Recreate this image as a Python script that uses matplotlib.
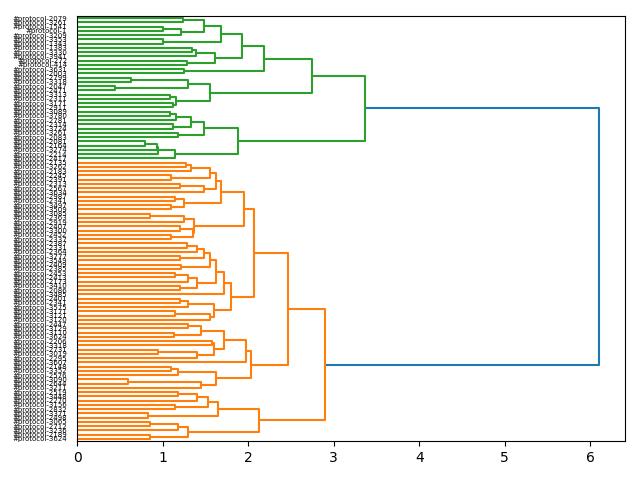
import matplotlib
matplotlib.use("Agg")
import matplotlib.pyplot as plt
from matplotlib.collections import LineCollection

# leaf labels, top to bottom
label_ids = [
    2079, 3261, 1541, 1, 3209, 3353, 1343, 1383, 3330, 3941, 272, 414,
    3631, 2003, 2799, 3318, 2047, 2471, 3313, 2311, 3171, 2911, 3089, 3780,
    2781, 2314, 3724, 3261, 2083, 2081, 2164, 3274, 2214, 2417, 2135, 3262,
    2183, 2245, 2391, 2313, 2567, 3634, 2987, 2341, 3497, 3509, 3085, 2363,
    2919, 2407, 3300, 2452, 2337, 2387, 2331, 2364, 3777, 3549, 2409, 2385,
    2453, 2413, 2173, 3410, 2086, 3485, 2401, 2341, 3575, 3171, 3121, 3120,
    2447, 3129, 3110, 3624, 2206, 3318, 2731, 3019, 2295, 3607, 2148, 3352,
    2576, 3090, 2644, 3211, 2519, 3448, 2270, 3156, 2832, 3371, 2498, 3065,
    2712, 3236, 2189, 3624,
]
labels = ["#protocol-%d" % n for n in label_ids]

# tree: [height, left, right], leaves are indices into labels (top to bottom)
green = [3.37,
    [2.75,
        [2.18,
            [1.93,
                [1.68, [1.49, [1.24, 0, 1], [1.22, [1.0, 2, 3], 4]], [1.0, 5, 6]],
                [1.61, [1.39, [1.34, 7, 8], 9], [1.28, 10, 11]]],
            [1.25, 12, 13]],
        [1.55, [1.3, [0.63, 14, 15], [0.44, 16, 17]],
               [1.16, [1.09, 18, 19], [1.12, 20, 21]]]],
    [1.88,
        [1.48, [1.33, [1.16, [1.09, 22, 23], 24], [1.12, 25, 26]], [1.18, 27, 28]],
        [1.15, [0.95, [0.93, [0.8, 29, 30], 31], 32], 33]]]

orange = [2.9,
    [2.47,
        [2.07,
            [1.95,
                [1.68, [1.63, [1.55, [1.33, [1.27, 34, 35], 36], [1.1, 37, 38]],
                              [1.48, [1.2, 39, 40], 41]],
                       [1.25, [1.15, 42, 43], [1.1, 44, 45]]],
                [1.37, [1.25, [0.85, 46, 47], 48], [1.35, [1.2, 49, 50], [1.1, 51, 52]]]],
            [1.8,
                [1.72, [1.62, [1.55, [1.48, [1.4, [1.28, 53, 54], 55], [1.2, 56, 57]],
                                     [1.22, 58, 59]],
                              [1.4, [1.3, [1.15, 60, 61], 62], [1.2, 63, 64]]],
                       65],
                [1.6, [1.3, [1.2, 66, 67], 68], [1.55, [1.15, 69, 70], 71]]]],
        [2.03,
            [1.97, [1.72, [1.45, [1.3, 72, 73], [1.13, 74, 75]],
                          [1.6, [1.58, 76, 77], [1.4, [0.95, 78, 79], 80]]],
                   81],
            [1.62, [1.18, [1.1, 82, 83], 84], [1.45, [0.6, 85, 86], 87]]]],
    [2.13,
        [1.65, [1.53, [1.4, [1.18, 88, 89], 90], [1.15, 91, 92]], [0.83, 93, 94]],
        [1.3, [1.18, [0.85, 95, 96], 97], [0.85, 98, 99]]]]

root_height = 6.1

segs = {"C0": [], "C1": [], "C2": []}


def walk(node, color):
    # returns (position, height) of node, adds its link lines
    if not isinstance(node, list):
        return 5 + 10 * node, 0.0
    h, left, right = node
    y1, h1 = walk(left, color)
    y2, h2 = walk(right, color)
    segs[color].append([(h1, y1), (h, y1), (h, y2), (h2, y2)])
    return (y1 + y2) / 2, h


yg, hg = walk(green, "C2")
yo, ho = walk(orange, "C1")
segs["C0"].append([(hg, yg), (root_height, yg), (root_height, yo), (ho, yo)])

fig, ax = plt.subplots(figsize=(6.4, 4.8), dpi=100)
for c, s in segs.items():
    ax.add_collection(LineCollection(s, colors=c, linewidths=1.5))

n = len(labels)
ax.set_ylim(10 * n, 0)
ax.set_xlim(0, root_height * 1.05)
ax.set_yticks([5 + 10 * i for i in range(n)])
ax.set_yticklabels(labels, fontsize=5)
for line in ax.get_yticklines():
    line.set_visible(False)

fig.subplots_adjust(left=77 / 640, right=625 / 640, top=1 - 16 / 480, bottom=1 - 441 / 480)
fig.savefig("out.png")
